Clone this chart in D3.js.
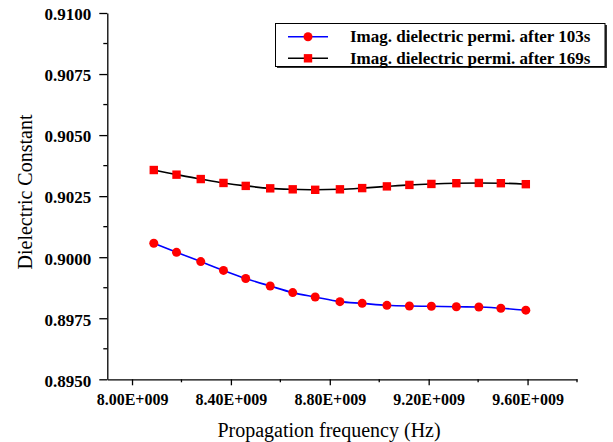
<!DOCTYPE html>
<html>
<head>
<meta charset="utf-8">
<script src="https://cdn.jsdelivr.net/npm/d3@7"></script>
<style>
  html, body { margin: 0; padding: 0; background: #fff; }
  svg { display: block; }
</style>
</head>
<body>
<svg id="chart" width="613" height="442"></svg>
<script>
// Data (frequency in Hz)
const frequencies = [8.088e9, 8.180e9, 8.278e9, 8.370e9, 8.460e9, 8.559e9, 8.650e9, 8.741e9, 8.841e9,
                     8.931e9, 9.031e9, 9.122e9, 9.211e9, 9.312e9, 9.403e9, 9.492e9, 9.593e9];
const after103s = [0.90057, 0.90020, 0.89982, 0.89946, 0.89913, 0.89882, 0.89855, 0.89837, 0.89818,
                   0.89811, 0.89803, 0.89800, 0.89799, 0.89797, 0.89796, 0.89791, 0.89783];
const after169s = [0.90357, 0.90338, 0.90320, 0.90304, 0.90292, 0.90282, 0.90278, 0.90276, 0.90278,
                   0.90283, 0.90290, 0.90296, 0.90300, 0.90303, 0.90304, 0.90303, 0.90299];
const seriesNames = ["Imag. dielectric permi. after 103s", "Imag. dielectric permi. after 169s"];
const xTickValues = [8.0e9, 8.4e9, 8.8e9, 9.2e9, 9.6e9];
const xTickLabels = ["8.00E+009", "8.40E+009", "8.80E+009", "9.20E+009", "9.60E+009"];
const xMinorTicks = [8.2e9, 8.6e9, 9.0e9, 9.4e9, 9.8e9];
const yTickValues = [0.8950, 0.8975, 0.9000, 0.9025, 0.9050, 0.9075, 0.9100];
const yTickLabels = ["0.8950", "0.8975", "0.9000", "0.9025", "0.9050", "0.9075", "0.9100"];
const yMinorTicks = [0.89625, 0.89875, 0.90125, 0.90375, 0.90625, 0.90875];
const xTitle = "Propagation frequency (Hz)";
const yTitle = "Dielectric Constant";

const svg = d3.select("#chart");
const serif = "'Liberation Serif', 'Times New Roman', serif";

const x = d3.scaleLinear().domain([7.9e9, 9.8e9]).range([107.3, 577]);
const y = d3.scaleLinear().domain([0.8950, 0.9100]).range([379.3, 13]);

// X axis
const xAxisG = svg.append("g").attr("transform", `translate(0,${y(0.8950)})`);
xAxisG.call(d3.axisBottom(x).tickValues(xTickValues).tickSize(6).tickSizeOuter(0)
  .tickFormat((d, i) => xTickLabels[i]));
xAxisG.selectAll(".tick").data(xMinorTicks, function(d){ return d; });
xAxisG.select(".domain").attr("stroke", "#000").attr("stroke-width", 1.3);
xAxisG.selectAll(".tick line").attr("stroke", "#000").attr("stroke-width", 1.3);
xAxisG.selectAll(".tick text").attr("font-family", serif).attr("font-weight", "bold")
  .attr("font-size", "16px").attr("fill", "#000").attr("dy", "1.05em");
xAxisG.selectAll(".minor").data(xMinorTicks).enter().append("line")
  .attr("class", "minor").attr("x1", d => x(d)).attr("x2", d => x(d))
  .attr("y1", 0).attr("y2", 3).attr("stroke", "#000").attr("stroke-width", 1.3);

// Y axis
const yAxisG = svg.append("g").attr("transform", `translate(${x(7.9e9)},0)`);
yAxisG.call(d3.axisLeft(y).tickValues(yTickValues).tickSize(8).tickSizeOuter(0)
  .tickFormat((d, i) => yTickLabels[i]));
yAxisG.select(".domain").attr("stroke", "#000").attr("stroke-width", 1.3);
yAxisG.selectAll(".tick line").attr("stroke", "#000").attr("stroke-width", 1.3);
yAxisG.selectAll(".tick text").attr("font-family", serif).attr("font-weight", "bold")
  .attr("font-size", "17px").attr("fill", "#000").attr("x", -16).attr("dy", "0.4em");
yAxisG.selectAll(".minor").data(yMinorTicks).enter().append("line")
  .attr("class", "minor").attr("y1", d => y(d)).attr("y2", d => y(d))
  .attr("x1", 0).attr("x2", -4).attr("stroke", "#000").attr("stroke-width", 1.3);

// Axis titles
svg.append("text").attr("x", 329).attr("y", 437).attr("text-anchor", "middle")
  .attr("font-family", serif).attr("font-size", "20px").attr("fill", "#000").text(xTitle);
svg.append("text").attr("transform", "translate(32,192) rotate(-90)").attr("text-anchor", "middle")
  .attr("font-family", serif).attr("font-size", "20px").attr("fill", "#000").text(yTitle);

// Lines
const line103 = d3.line().x((d, i) => x(frequencies[i])).y(d => y(d)).curve(d3.curveMonotoneX);
svg.append("path").datum(after103s).attr("d", line103).attr("fill", "none")
  .attr("stroke", "#0000ff").attr("stroke-width", 1.6);
svg.append("path").datum(after169s).attr("d", line103).attr("fill", "none")
  .attr("stroke", "#000").attr("stroke-width", 1.6);

// Markers
svg.append("g").selectAll("circle").data(after103s).enter().append("circle")
  .attr("cx", (d, i) => x(frequencies[i])).attr("cy", d => y(d)).attr("r", 4.5)
  .attr("fill", "#ff0000");
svg.append("g").selectAll("rect").data(after169s).enter().append("rect")
  .attr("x", (d, i) => x(frequencies[i]) - 4.2).attr("y", d => y(d) - 4.2)
  .attr("width", 8.4).attr("height", 8.4).attr("fill", "#ff0000");

// Legend
const lg = svg.append("g");
lg.append("rect").attr("x", 277).attr("y", 25).attr("width", 330).attr("height", 43).attr("fill", "#333");
lg.append("rect").attr("x", 275.5).attr("y", 23.5).attr("width", 329.5).attr("height", 43)
  .attr("fill", "#fff").attr("stroke", "#000").attr("stroke-width", 1);
const legendRows = [
  { name: seriesNames[0], color: "#0000ff", shape: "circle", ly: 36.7 },
  { name: seriesNames[1], color: "#000", shape: "square", ly: 58.3 }
];
legendRows.forEach(r => {
  lg.append("line").attr("x1", 288).attr("x2", 328).attr("y1", r.ly).attr("y2", r.ly)
    .attr("stroke", r.color).attr("stroke-width", 1.6);
  if (r.shape === "circle") {
    lg.append("circle").attr("cx", 308).attr("cy", r.ly).attr("r", 4.5).attr("fill", "#ff0000");
  } else {
    lg.append("rect").attr("x", 308 - 4.2).attr("y", r.ly - 4.2).attr("width", 8.4).attr("height", 8.4).attr("fill", "#ff0000");
  }
  lg.append("text").attr("x", 350).attr("y", r.ly + 5.5).attr("font-family", serif)
    .attr("font-weight", "bold").attr("font-size", "17px").attr("fill", "#000").text(r.name);
});
</script>
</body>
</html>
